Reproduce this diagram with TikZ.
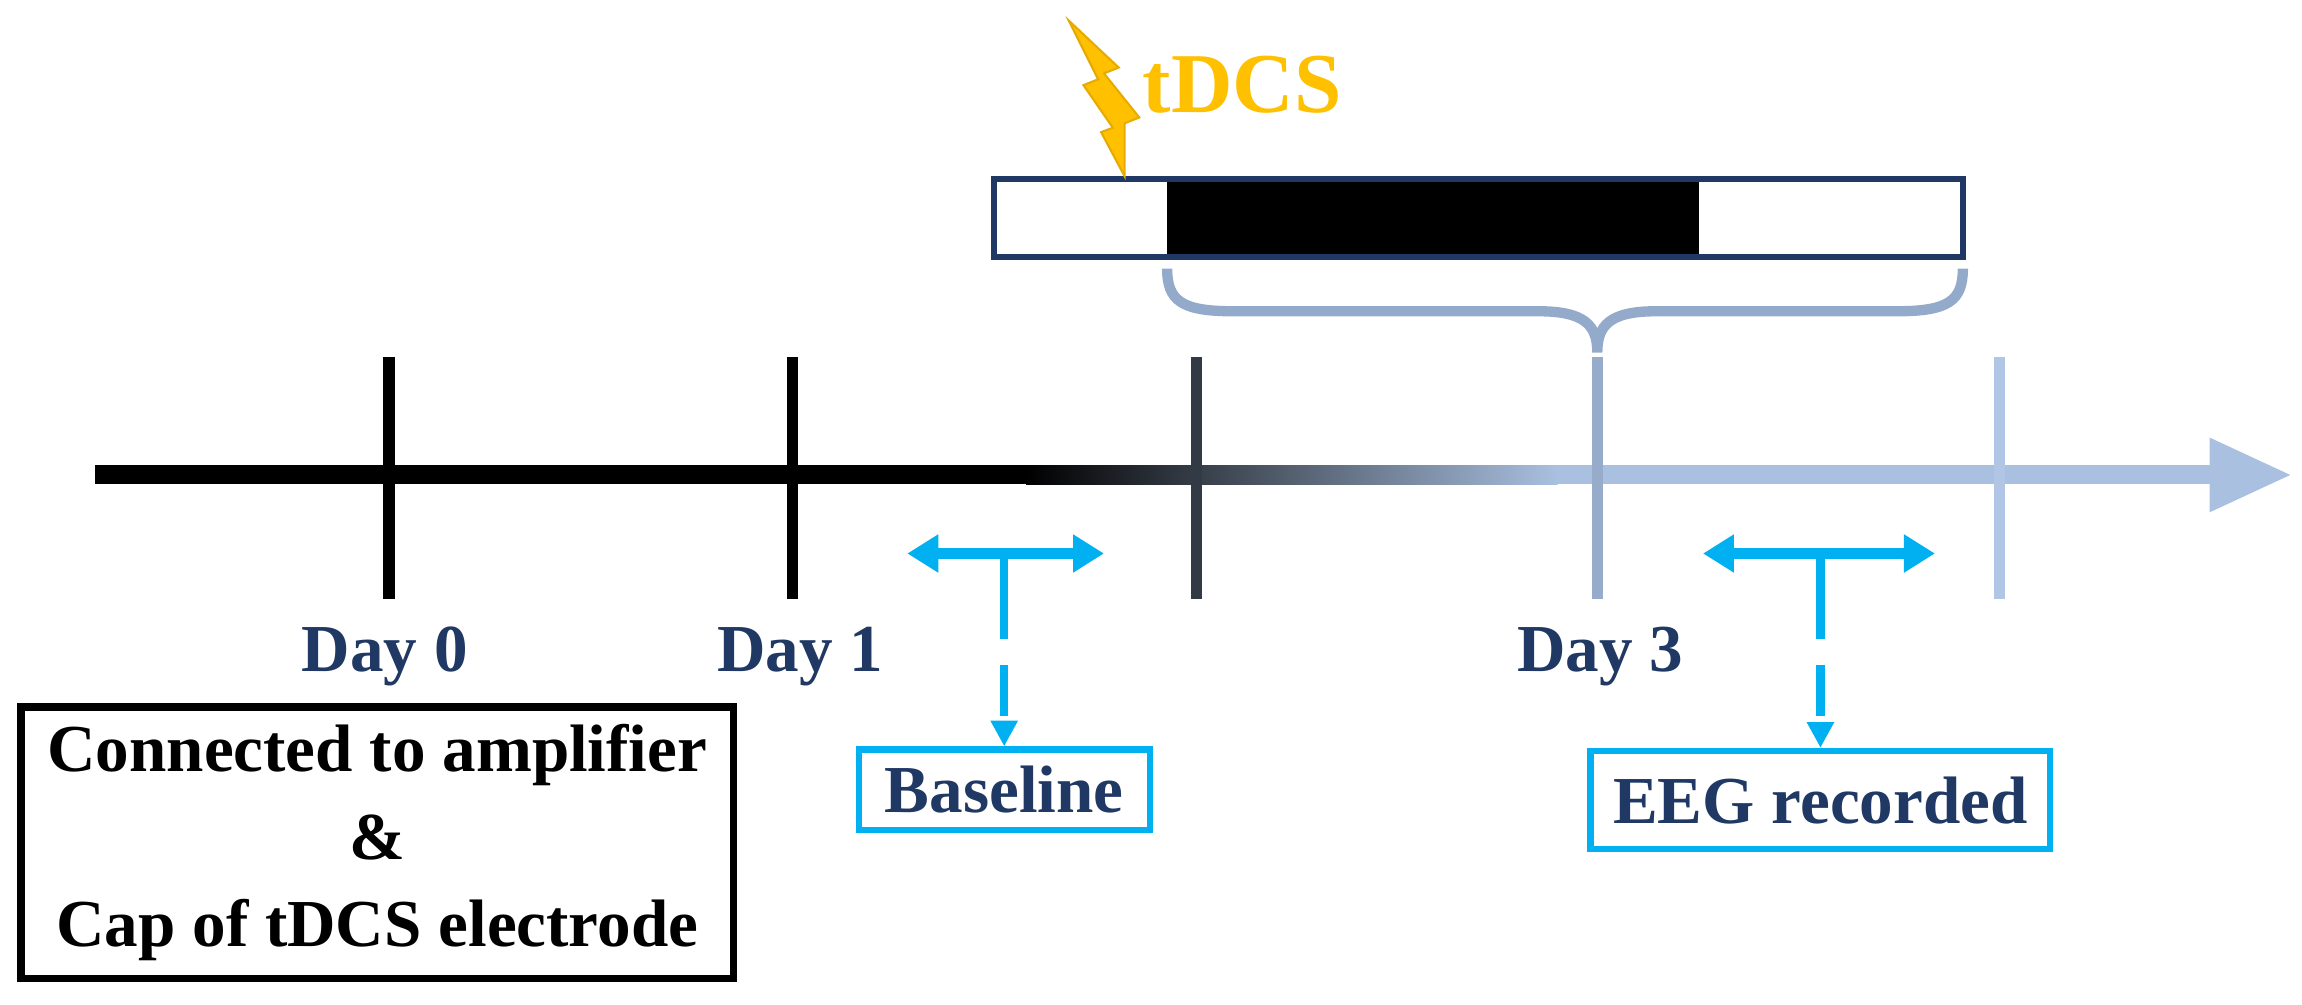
\documentclass[tikz,border=0pt]{standalone}
\usepackage{fontspec}
\setmainfont{Liberation Serif}
\usetikzlibrary{arrows.meta}
\definecolor{navy}{HTML}{1F3864}
\definecolor{lb}{HTML}{A9C0E0}
\definecolor{cy}{HTML}{00B0F0}
\definecolor{gold}{HTML}{FFC000}
\begin{document}
\begin{tikzpicture}[x=0.01cm,y=-0.01cm,
  lab/.style={font=\fontsize{13}{15}\selectfont\bfseries,text=navy},
  cbox/.style={draw=cy,line width=1.2pt,font=\fontsize{13}{15}\selectfont\bfseries,text=navy,inner sep=0pt},
  tick/.style={line width=2.2pt},
  dbl/.style={cy,line width=2.2pt,{Triangle[length=6pt,width=7pt]}-{Triangle[length=6pt,width=7pt]}},
  dashcon/.style={cy,line width=1.6pt,dash pattern=on 10pt off 5pt,-{Triangle[length=5pt,width=5pt]}}]
\useasboundingbox (0,0) rectangle (1568,684);
% timeline
\fill[black] (65,317) rectangle (700,330);
\shade[left color=black,right color=lb] (699,317) rectangle (1061,330);
\fill[lb] (1060,317) rectangle (1510,330);
\fill[lb] (1505,298) -- (1560,323.5) -- (1505,349) -- cycle;
\coordinate (t0a) at (265,243); \coordinate (t0b) at (265,408);
\coordinate (t1a) at (540,243); \coordinate (t1b) at (540,408);
\coordinate (t2a) at (815,243); \coordinate (t2b) at (815,408);
\coordinate (t3a) at (1088,243); \coordinate (t3b) at (1088,408);
\coordinate (t4a) at (1362,243); \coordinate (t4b) at (1362,408);
\draw[tick,black] (t0a) -- (t0b);
\draw[tick,black] (t1a) -- (t1b);
\draw[tick,color={rgb,255:red,50;green,58;blue,70}] (t2a) -- (t2b);
\draw[tick,color={rgb,255:red,150;green,172;blue,202}] (t3a) -- (t3b);
\draw[tick,color={rgb,255:red,176;green,198;blue,228}] (t4a) -- (t4b);
\node[lab] (d0) at (262,447) {Day 0};
\node[lab] (d1) at (545,447) {Day 1};
\node[lab] (d3) at (1090,447) {Day 3};
% top bar
\fill[black] (795,122) rectangle (1157,175);
\draw[navy,line width=1.2pt] (677,122) rectangle (1337,175);
\draw[color={rgb,255:red,148;green,170;blue,203},line width=2pt]
  (795,183) .. controls (795,205) and (805,212) .. (840,212) -- (1048,212) .. controls (1080,212) and (1088,222) .. (1088,240)
  .. controls (1088,222) and (1096,212) .. (1128,212) -- (1292,212) .. controls (1327,212) and (1337,205) .. (1337,183);
% lightning
\fill[gold,draw={rgb,255:red,230;green,170;blue,0},line width=0.4pt]
  (728,14) -- (762,46) -- (752,50) -- (776,80) -- (766,84) -- (766,120) -- (750,90) -- (758,87) -- (738,58) -- (748,54) -- cycle;
\node[font=\fontsize{16.5}{18}\selectfont\bfseries,text=gold] (tdcs) at (846,58) {tDCS};
% baseline arrows
\coordinate (ba) at (618,377); \coordinate (bb) at (752,377);
\draw[dbl] (ba) -- (bb);
\coordinate (bs) at (684,377); \coordinate (bm) at (684,400);
\node[cbox,minimum width=1.98cm,minimum height=0.55cm] (base) at (684,538) {Baseline};
\draw[cy,line width=1.6pt] (bs) -- (bm);
\draw[dashcon] (bm) -- (base.north);
% EEG arrows
\coordinate (ea) at (1160,377); \coordinate (eb) at (1318,377);
\draw[dbl] (ea) -- (eb);
\coordinate (es) at (1240,377); \coordinate (em) at (1240,400);
\node[cbox,minimum width=3.13cm,minimum height=0.67cm] (eeg) at (1240,545) {EEG recorded};
\draw[cy,line width=1.6pt] (es) -- (em);
\draw[dashcon] (em) -- (eeg.north);
% black box
\node[draw=black,line width=1.4pt,minimum width=4.85cm,minimum height=1.72cm,align=center,
  font=\fontsize{13}{17}\selectfont\bfseries] (amp) at (257,574)
  {Connected to amplifier\\\&\\Cap of tDCS electrode};
\end{tikzpicture}
\end{document}
